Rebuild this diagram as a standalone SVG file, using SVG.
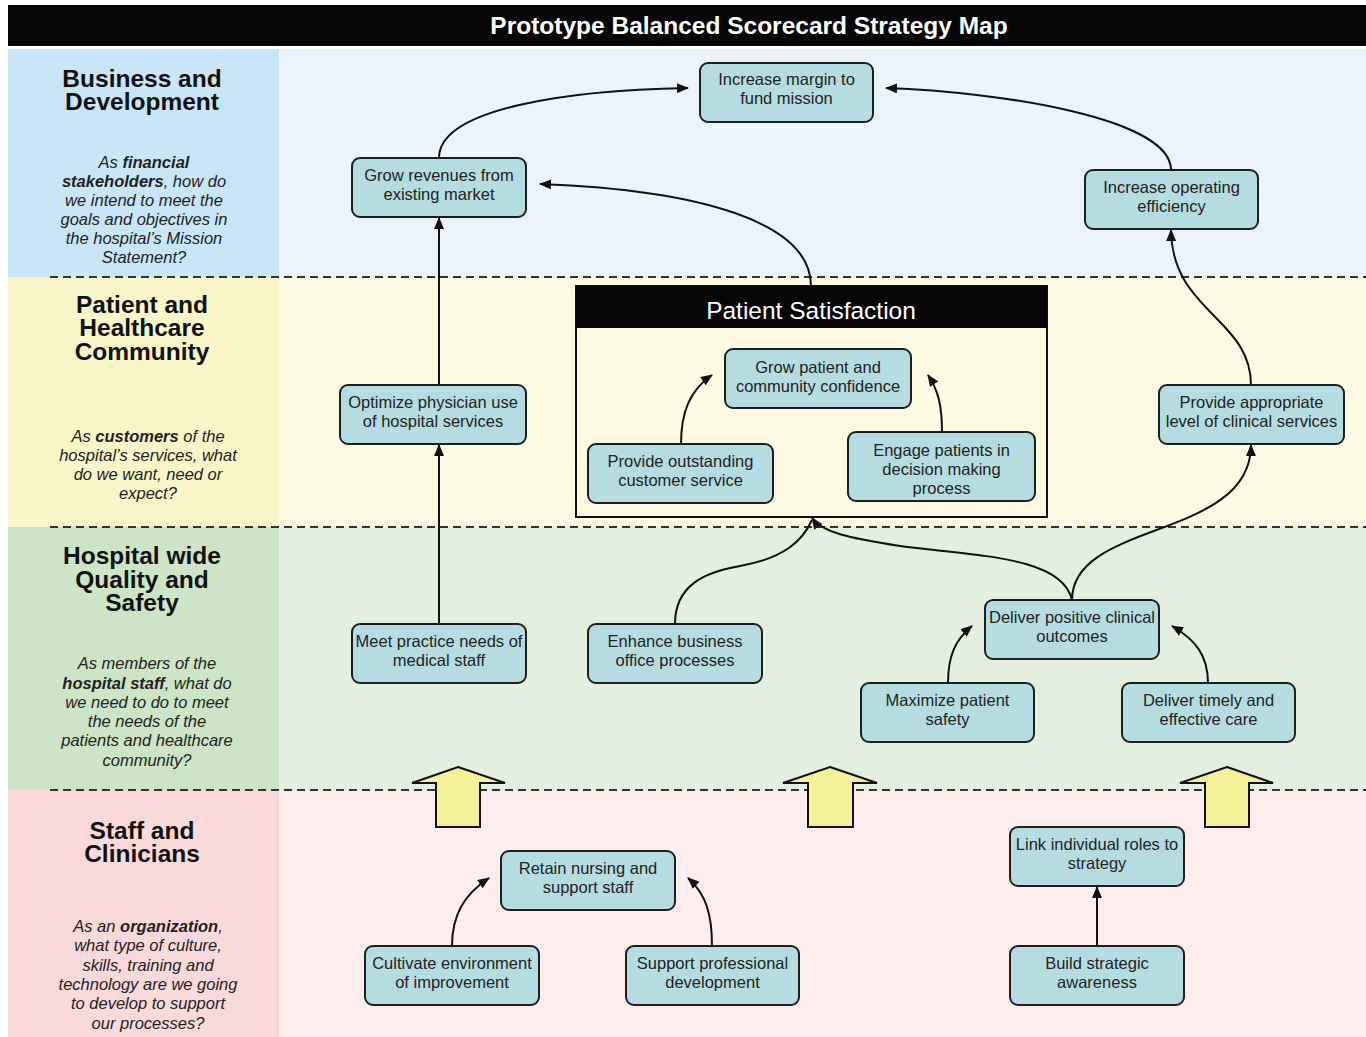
<svg xmlns="http://www.w3.org/2000/svg" width="1366" height="1037" viewBox="0 0 1366 1037">
  <style>
    .node rect { fill: #b5dde1; stroke: #1e1e1e; stroke-width: 2; }
    .node text { font-family: "Liberation Sans", Arial, sans-serif; font-size: 16.5px; fill: #222; text-anchor: middle; }
    .hdr { font-family: "Liberation Sans", Arial, sans-serif; font-size: 24.5px; font-weight: bold; fill: #111; text-anchor: middle; }
    .q { font-family: "Liberation Sans", Arial, sans-serif; font-size: 16.5px; font-style: italic; fill: #222; text-anchor: middle; }
    .q tspan.b { font-weight: bold; }
    .sep { stroke: #333; stroke-width: 2; stroke-dasharray: 8 5; fill: none; }
    .link { fill: none; stroke: #111; stroke-width: 2; }
    .block { fill: #f3f29b; stroke: #111; stroke-width: 2; stroke-linejoin: miter; }
  </style>
  <defs>
    <marker id="tip" viewBox="0 0 12 10" refX="11" refY="5" markerWidth="12" markerHeight="10" markerUnits="userSpaceOnUse" orient="auto">
      <path d="M0,0 L12,5 L0,10 Z" fill="#111"/>
    </marker>
  </defs>

  <rect width="1366" height="1037" fill="#ffffff"/>

  <!-- perspective bands: label column + content area -->
  <g id="bands">
    <rect x="8" y="49" width="1358" height="228" fill="#ecf4fb"/>
    <rect x="8" y="49" width="271" height="228" fill="#c8e6f7"/>
    <rect x="8" y="277" width="1358" height="250" fill="#fcfae2"/>
    <rect x="8" y="277" width="271" height="250" fill="#f8f5c9"/>
    <rect x="8" y="527" width="1358" height="263" fill="#e3efdf"/>
    <rect x="8" y="527" width="271" height="263" fill="#cde4c7"/>
    <rect x="8" y="790" width="1358" height="247" fill="#fdeded"/>
    <rect x="8" y="790" width="271" height="247" fill="#fad9da"/>
    <line class="sep" x1="50" y1="277" x2="1366" y2="277"/>
    <line class="sep" x1="50" y1="527" x2="1366" y2="527"/>
    <line class="sep" x1="50" y1="790" x2="1366" y2="790"/>
  </g>

  <!-- title bar -->
  <g id="title">
    <rect x="8" y="5" width="1358" height="41" fill="#060606"/>
    <text x="749" y="34" font-family="'Liberation Sans', Arial, sans-serif" font-size="24.5" font-weight="bold" fill="#ffffff" text-anchor="middle">Prototype Balanced Scorecard Strategy Map</text>
  </g>

  <!-- perspective labels -->
  <g id="label-financial">
    <text class="hdr" x="142"><tspan x="142" y="87">Business and</tspan><tspan x="142" y="110">Development</tspan></text>
    <text class="q" x="144"><tspan x="144" y="168">As <tspan class="b">financial</tspan></tspan><tspan x="144" y="187"><tspan class="b">stakeholders</tspan>, how do</tspan><tspan x="144" y="206">we intend to meet the</tspan><tspan x="144" y="225">goals and objectives in</tspan><tspan x="144" y="244">the hospital’s Mission</tspan><tspan x="144" y="263">Statement?</tspan></text>
  </g>
  <g id="label-customer">
    <text class="hdr" x="142"><tspan x="142" y="313">Patient and</tspan><tspan x="142" y="336">Healthcare</tspan><tspan x="142" y="360">Community</tspan></text>
    <text class="q" x="148"><tspan x="148" y="442">As <tspan class="b">customers</tspan> of the</tspan><tspan x="148" y="461">hospital’s services, what</tspan><tspan x="148" y="480">do we want, need or</tspan><tspan x="148" y="499">expect?</tspan></text>
  </g>
  <g id="label-internal">
    <text class="hdr" x="142"><tspan x="142" y="564">Hospital wide</tspan><tspan x="142" y="588">Quality and</tspan><tspan x="142" y="611">Safety</tspan></text>
    <text class="q" x="147"><tspan x="147" y="669">As members of the</tspan><tspan x="147" y="689"><tspan class="b">hospital staff</tspan>, what do</tspan><tspan x="147" y="708">we need to do to meet</tspan><tspan x="147" y="727">the needs of the</tspan><tspan x="147" y="746">patients and healthcare</tspan><tspan x="147" y="766">community?</tspan></text>
  </g>
  <g id="label-learning">
    <text class="hdr" x="142"><tspan x="142" y="839">Staff and</tspan><tspan x="142" y="862">Clinicians</tspan></text>
    <text class="q" x="148"><tspan x="148" y="932">As an <tspan class="b">organization</tspan>,</tspan><tspan x="148" y="951">what type of culture,</tspan><tspan x="148" y="971">skills, training and</tspan><tspan x="148" y="990">technology are we going</tspan><tspan x="148" y="1009">to develop to support</tspan><tspan x="148" y="1029">our processes?</tspan></text>
  </g>

  <!-- Patient Satisfaction container -->
  <g id="patient-satisfaction">
    <rect x="576" y="286" width="471" height="231" fill="#fcfae2" stroke="#111" stroke-width="2"/>
    <rect x="576" y="286" width="471" height="42" fill="#060606"/>
    <text x="811" y="319" font-family="'Liberation Sans', Arial, sans-serif" font-size="24.5" fill="#ffffff" text-anchor="middle">Patient Satisfaction</text>
  </g>

  <!-- block arrows between staff and process layers -->
  <g id="block-arrows">
    <path class="block" d="M458,767 L505,783 L480,783 L480,827 L436,827 L436,783 L412,783 Z"/>
    <path class="block" d="M830,767 L877,783 L853,783 L853,827 L808,827 L808,783 L783,783 Z"/>
    <path class="block" d="M1227,767 L1273,783 L1249,783 L1249,827 L1205,827 L1205,783 L1180,783 Z"/>
  </g>

  <!-- connectors -->
  <g id="connectors">
    <path class="link" marker-end="url(#tip)" d="M439,158 C439,108 570,90 688,88"/>
    <path class="link" marker-end="url(#tip)" d="M1171,170 C1171,118 1000,92 886,88"/>
    <path class="link" marker-end="url(#tip)" d="M811,286 C811,222 700,190 540,184"/>
    <path class="link" marker-end="url(#tip)" d="M439,385 L439,218"/>
    <path class="link" marker-end="url(#tip)" d="M439,624 L439,445"/>
    <path class="link" marker-end="url(#tip)" d="M1251,385 C1251,318 1172,312 1171,230"/>
    <path class="link" marker-end="url(#tip)" d="M1072,600 C1072,520 1251,540 1251,445"/>
    <path class="link" d="M675,624 C675,585 705,572 740,566 C785,558 803,540 812,520"/>
    <path class="link" marker-end="url(#tip)" d="M1072,600 C1062,556 975,556 900,546 C848,538 822,532 812,518"/>
    <path class="link" marker-end="url(#tip)" d="M681,444 C681,412 690,390 712,375"/>
    <path class="link" marker-end="url(#tip)" d="M942,432 C942,405 938,390 928,375"/>
    <path class="link" marker-end="url(#tip)" d="M948,683 C948,656 955,640 972,626"/>
    <path class="link" marker-end="url(#tip)" d="M1208,683 C1208,656 1196,640 1172,626"/>
    <path class="link" marker-end="url(#tip)" d="M452,946 C452,914 465,894 489,878"/>
    <path class="link" marker-end="url(#tip)" d="M712,946 C712,914 706,894 688,878"/>
    <path class="link" marker-end="url(#tip)" d="M1097,946 L1097,887"/>
  </g>

  <!-- objectives -->
  <g id="increase-margin" class="node"><rect x="700" y="63" width="173" height="59" rx="8"/><text x="786.5" y="84.5">Increase margin to</text><text x="786.5" y="103.5">fund mission</text></g>
  <g id="grow-revenues" class="node"><rect x="352" y="158" width="174" height="59" rx="8"/><text x="439" y="180.5">Grow revenues from</text><text x="439" y="199.5">existing market</text></g>
  <g id="operating-efficiency" class="node"><rect x="1085" y="170" width="173" height="59" rx="8"/><text x="1171.5" y="192.5">Increase operating</text><text x="1171.5" y="211.5">efficiency</text></g>
  <g id="optimize-physician" class="node"><rect x="340" y="385" width="186" height="59" rx="8"/><text x="433" y="407.5">Optimize physician use</text><text x="433" y="426.5">of hospital services</text></g>
  <g id="grow-confidence" class="node"><rect x="725" y="349" width="186" height="59" rx="8"/><text x="818" y="372.5">Grow patient and</text><text x="818" y="391.5">community confidence</text></g>
  <g id="customer-service" class="node"><rect x="588" y="444" width="185" height="59" rx="8"/><text x="680.5" y="466.5">Provide outstanding</text><text x="680.5" y="486">customer service</text></g>
  <g id="engage-patients" class="node"><rect x="848" y="432" width="187" height="69" rx="8"/><text x="941.5" y="455.5">Engage patients in</text><text x="941.5" y="474.5">decision making</text><text x="941.5" y="493.5">process</text></g>
  <g id="clinical-services" class="node"><rect x="1159" y="385" width="185" height="59" rx="8"/><text x="1251.5" y="407.5">Provide appropriate</text><text x="1251.5" y="426.5">level of clinical services</text></g>
  <g id="medical-staff" class="node"><rect x="352" y="624" width="174" height="59" rx="8"/><text x="439" y="646.5">Meet practice needs of</text><text x="439" y="665.5">medical staff</text></g>
  <g id="business-office" class="node"><rect x="588" y="624" width="174" height="59" rx="8"/><text x="675" y="646.5">Enhance business</text><text x="675" y="665.5">office processes</text></g>
  <g id="clinical-outcomes" class="node"><rect x="985" y="600" width="174" height="59" rx="8"/><text x="1072" y="622.5">Deliver positive clinical</text><text x="1072" y="641.5">outcomes</text></g>
  <g id="patient-safety" class="node"><rect x="861" y="683" width="173" height="59" rx="8"/><text x="947.5" y="705.5">Maximize patient</text><text x="947.5" y="724.5">safety</text></g>
  <g id="timely-care" class="node"><rect x="1122" y="683" width="173" height="59" rx="8"/><text x="1208.5" y="705.5">Deliver timely and</text><text x="1208.5" y="724.5">effective care</text></g>
  <g id="retain-staff" class="node"><rect x="501" y="851" width="174" height="59" rx="8"/><text x="588" y="873.5">Retain nursing and</text><text x="588" y="892.5">support staff</text></g>
  <g id="cultivate-environment" class="node"><rect x="365" y="946" width="174" height="59" rx="8"/><text x="452" y="968.5">Cultivate environment</text><text x="452" y="988">of improvement</text></g>
  <g id="professional-development" class="node"><rect x="626" y="946" width="173" height="59" rx="8"/><text x="712.5" y="968.5">Support professional</text><text x="712.5" y="988">development</text></g>
  <g id="link-roles" class="node"><rect x="1010" y="827" width="174" height="59" rx="8"/><text x="1097" y="849.5">Link individual roles to</text><text x="1097" y="868.5">strategy</text></g>
  <g id="strategic-awareness" class="node"><rect x="1010" y="946" width="174" height="59" rx="8"/><text x="1097" y="968.5">Build strategic</text><text x="1097" y="988">awareness</text></g>
</svg>
